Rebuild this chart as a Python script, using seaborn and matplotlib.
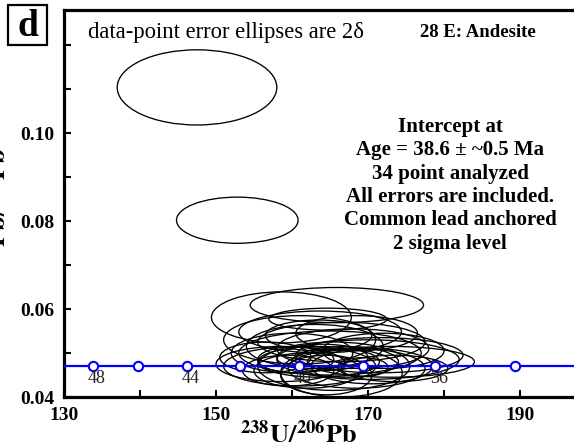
import matplotlib
matplotlib.use('Agg')
import matplotlib.pyplot as plt
import seaborn as sns
import pandas as pd
from matplotlib.patches import Ellipse, Rectangle

# Data-point error ellipses (2 sigma): centre and full width / height
ell_x = [147.5, 152.8, 165.9, 158.6, 164.7, 163.7, 161.0, 166.5, 163.0, 168.0,
         160.0, 165.0, 171.5, 173.0, 170.0, 158.5, 161.0, 163.5, 165.5, 168.5,
         162.0, 166.5, 169.3, 156.5, 172.0, 164.0, 160.5, 167.0, 170.5, 164.5,
         159.5, 173.5, 163.5, 168.5]
ell_y = [0.1104, 0.0802, 0.0609, 0.0581, 0.0577, 0.0548, 0.0530, 0.0525, 0.0515, 0.0510,
         0.0500, 0.0500, 0.0495, 0.0480, 0.0485, 0.0475, 0.0470, 0.0480, 0.0470, 0.0465,
         0.0460, 0.0455, 0.0468, 0.0490, 0.0505, 0.0490, 0.0485, 0.0480, 0.0470, 0.0450,
         0.0460, 0.0465, 0.0540, 0.0545]
ell_w = [21.0, 16.0, 22.8, 18.4, 15.5, 21.4, 20.0, 22.0, 18.0, 20.0,
         16.0, 24.0, 22.0, 22.0, 24.0, 17.0, 20.0, 16.0, 20.0, 18.0,
         14.0, 16.0, 6.6, 12.0, 16.0, 12.0, 10.0, 14.0, 16.0, 12.0,
         12.0, 14.0, 14.0, 16.0]
ell_h = [0.0171, 0.0105, 0.0080, 0.0116, 0.0050, 0.0095, 0.0110, 0.0090, 0.0100, 0.0090,
         0.0090, 0.0100, 0.0080, 0.0070, 0.0090, 0.0080, 0.0090, 0.0070, 0.0110, 0.0090,
         0.0080, 0.0110, 0.0043, 0.0070, 0.0080, 0.0060, 0.0060, 0.0070, 0.0080, 0.0090,
         0.0070, 0.0060, 0.0070, 0.0080]

# Concordia (age ticks in Ma)
conc_age = [48, 46, 44, 42, 40, 38, 36, 34]
conc_x = [133.8, 139.7, 146.2, 153.1, 160.9, 169.4, 178.8, 189.4]
conc_y = [0.0470, 0.0470, 0.0470, 0.0470, 0.0470, 0.0470, 0.0470, 0.0470]
conc_line_x = [130.0, 133.8, 139.7, 146.2, 153.1, 160.9, 169.4, 178.8, 189.4, 197.1]
conc_line_y = [0.0470, 0.0470, 0.0470, 0.0470, 0.0470, 0.0470, 0.0470, 0.0470, 0.0470, 0.0470]
labelled_ages = [48, 44, 40, 36]

x_ticks = [130, 140, 150, 160, 170, 180, 190]
x_ticklabels = ['130', '', '150', '', '170', '', '190']
y_ticks = [0.04, 0.05, 0.06, 0.07, 0.08, 0.09, 0.10, 0.11, 0.12]
y_ticklabels = ['0.04', '', '0.06', '', '0.08', '', '0.10', '', '']

info_lines = ['Intercept at', 'Age = 38.6 \u00b1 ~0.5 Ma', '34 point analyzed',
              'All errors are included.', 'Common lead anchored', '2 sigma level']

sns.set_theme(style='ticks')
plt.rcParams['font.family'] = ['Liberation Serif', 'DejaVu Serif']
plt.rcParams['mathtext.fontset'] = 'stix'
for key in ['text.color', 'axes.labelcolor', 'xtick.color', 'ytick.color']:
    plt.rcParams[key] = 'black'

W, H = 574, 446


def px(x, y):
    return x / W, 1 - y / H


fig = plt.figure(figsize=(W / 100, H / 100), dpi=100)
ax = fig.add_axes([64 / W, 49 / H, 510 / W, 387 / H])

for x, y, w, h in zip(ell_x, ell_y, ell_w, ell_h):
    ax.add_patch(Ellipse((x, y), w, h, fill=False, edgecolor='black', lw=0.95, zorder=2))

conc = pd.DataFrame({'x': conc_x, 'y': conc_y, 'age': conc_age})
sns.lineplot(x=conc_line_x, y=conc_line_y, color='#0000ff', lw=1.6, ax=ax, zorder=3)
sns.scatterplot(data=conc, x='x', y='y', s=45, color='white', edgecolor='#0000ff',
                linewidth=1.5, ax=ax, zorder=4)
for x, y, age in zip(conc_x, conc_y, conc_age):
    if age in labelled_ages:
        ax.text(x + 0.5, y - 0.0027, str(age), ha='center', va='center',
                fontsize=13, color='#202020', zorder=5)

ax.set_xlim(130, 197.1)
ax.set_ylim(0.04, 0.128)
ax.set_xticks(x_ticks)
ax.set_xticklabels(x_ticklabels)
ax.set_yticks(y_ticks)
ax.set_yticklabels(y_ticklabels)
ax.tick_params(direction='in', length=5, width=1.5, labelsize=14, pad=7, colors='black')
for lbl in ax.get_xticklabels() + ax.get_yticklabels():
    lbl.set_fontweight('bold')

for s in ['top', 'left', 'bottom']:
    ax.spines[s].set_linewidth(2.3)
    ax.spines[s].set_color('black')
ax.spines['right'].set_visible(False)

ax.set_xlabel(r'$\mathbf{^{238}U/^{206}Pb}$', fontsize=19)
ax.xaxis.set_label_coords((298 - 64) / 510, -0.06)
ax.set_ylabel(r'$\mathbf{^{207}Pb/^{206}Pb}$', fontsize=19)
ax.yaxis.set_label_coords((11 - 64) / 510, 0.48)

# panel letter
fig.patches.append(Rectangle(px(8, 45), 39 / W, 40 / H, transform=fig.transFigure,
                             fill=False, lw=1.6, edgecolor='black'))
fig.text(*px(27.5, 26), 'd', fontsize=27, fontweight='bold', ha='center', va='center')

fig.text(*px(88, 38), 'data-point error ellipses are 2\u03b4', fontsize=16.3, va='baseline')
fig.text(*px(420, 37), '28 E: Andesite', fontsize=13.5, fontweight='bold', va='baseline')
for i, line in enumerate(info_lines):
    fig.text(*px(450, 132 + i * 23.3), line, fontsize=15, fontweight='bold',
             ha='center', va='baseline')

fig.savefig('out.png', dpi=100)
